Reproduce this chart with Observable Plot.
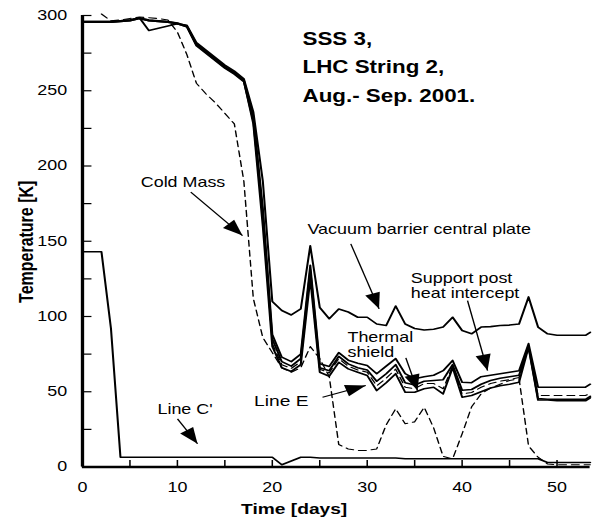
<!DOCTYPE html>
<html>
<head>
<meta charset="utf-8">
<script src="https://cdn.jsdelivr.net/npm/d3@7"></script>
<script src="https://cdn.jsdelivr.net/npm/@observablehq/plot@0.6"></script>
<style>
  body { margin: 0; background: #fff; }
  #chart svg { display: block; }
</style>
</head>
<body>
<div id="chart"></div>
<script>
// ---------- data ----------
const days = [0,1,2,3,4,5,6,7,8,9,10,11,12,13,14,15,16,17,18,19,20,21,22,23,24,25,26,27,28,29,30,31,32,33,34,35,36,37,38,39,40,41,42,43,44,45,46,47,48,49,50,51,52,53,53.5];

const vacuumPlate = [296,296,296,296,296.5,297,298.5,290,291.5,293,294.5,293.5,282,277,272,267,263,258,236,190,110,104,101,105,147,106,98.5,105,103,99.5,99.5,95,94,107,95,92,91,91.5,93,99.5,90.7,88.5,93,93.3,94,94.3,95,113,93,88.5,87.5,87.5,87.5,87.5,89.5];

const supportPost = [296,296,296,296,296.5,297,298.5,297,296.5,296,295,293,281,276,271,266,262,257,233,172,88,73,70,75,134,68.6,66.8,76,71,69,67.4,62,67,72,62,58.6,60,61,64,70.8,56.3,56,60,61,62,63,64,82,53,53,53,53,53,53,55];

const thermalShield = [295.5,295.5,295.5,295.5,296,296.5,298,296.5,296,295.5,294.5,292.5,280,275,270,265,261,256,230,168,85,70,67,72,131,66,64,73.5,68.5,66,64.5,57,62,68,56,54.5,57,57.5,58,68,51,51.5,55,57.5,59,60,61,80,45.5,45,45,45,45,45,47];

const bundleDashed = [296,296,296,296,296.5,297,298.5,297,296.5,296,295,293,281,276,271,266,262,257,231,165,82,68,65.5,70,128,65,62.5,72,67,64.5,63,54,59,65,53,52,55.5,55.5,52,67,48.5,49.5,53,55.5,57,58,59.5,80.5,47.5,47.5,47.5,47.5,47.5,47.5,49];

const lineE = [295.5,295.5,295.5,295.5,296,296.5,298,296.5,296,295.5,294.5,292.5,280.5,275.5,270.5,265.5,261.5,256.5,228,160,80,66,63.5,68,125,63,60.3,69.6,65.2,63,60.8,50.8,56,62,49.7,49.7,52,53,48.6,66,46.4,47.5,50,52.5,54,55,56.3,79.6,44.5,44.5,44,44,44,44,46];

const coldMass = [null,null,301,296.5,297,298,299,298.5,298,297,289,274,255,248,242,235,228,190,112,86,76,66,63,66,80,72,60,15,12,11,11,12,28,38.7,28.7,30,39.7,26,7,5.4,22,40,48.6,52.5,55,57.5,58.6,14,6.5,2,1.5,1.5,1.5,1.5,1.5];

const lineCprime = [143,143,143,92,6.5,6.5,6.5,6.5,6.5,6.5,6.5,6.5,6.5,6.5,6.5,6.5,6.5,6.5,6.5,6.5,6.5,1.5,4,6.5,6.5,6,6,6,6,6,6,6,6,6,5.5,5.5,5.5,5.5,5.5,5.5,5.5,5.5,5.5,5.5,5.5,5.5,5.5,5.5,5.5,3,3,3,3,3,3];

const yTicks = [0,50,100,150,200,250,300];
const yMinorTicks = [0,25,50,75,100,125,150,175,200,225,250,275,300];
const xTicks = [0,10,20,30,40,50];
const xMinorTicks = [0,5,10,15,20,25,30,35,40,45,50];

const titleLines = ["SSS 3,", "LHC String 2,", "Aug.- Sep. 2001."];
const xLabel = "Time [days]";
const yLabel = "Temperature [K]";

// annotation anchors in data units (day, K): baseline of the (last) text line
const notes = [
  {x: 6.14, y: 185.9, text: "Cold Mass", size: 14, lh: 1},
  {x: 23.71, y: 155, text: "Vacuum barrier central plate", size: 14, lh: 1},
  {x: 34.6, y: 112.4, text: "Support post\nheat intercept", size: 14, lh: 1.05},
  {x: 27.92, y: 73.4, text: "Thermal\nshield", size: 14, lh: 1.05},
  {x: 18.08, y: 40.2, text: "Line E", size: 15, lh: 1},
  {x: 7.9, y: 35.3, text: "Line C'", size: 14, lh: 1}
];
const arrows = [
  {x1: 11.41, y1: 182.6, x2: 16.86, y2: 153.8},
  {x1: 28.27, y1: 148.3, x2: 31.25, y2: 105.1},
  {x1: 40.57, y1: 110.6, x2: 42.68, y2: 64.1},
  {x1: 34.07, y1: 72.5, x2: 35.3, y2: 50.8},
  {x1: 25.29, y1: 46.4, x2: 29.85, y2: 54.2},
  {x1: 10.01, y1: 32.0, x2: 12.12, y2: 15.4}
];

// ---------- build ----------
const series = [
  {name: "Vacuum barrier central plate", values: vacuumPlate, dashed: false},
  {name: "Support post heat intercept", values: supportPost, dashed: false},
  {name: "Thermal shield", values: thermalShield, dashed: false},
  {name: "Thermal shield (2)", values: bundleDashed, dashed: true},
  {name: "Line E", values: lineE, dashed: false},
  {name: "Cold Mass", values: coldMass, dashed: true},
  {name: "Line C'", values: lineCprime, dashed: false}
];
const solidRows = [], dashedRows = [];
for (const s of series) {
  days.forEach((d, i) => {
    const v = s.values[i];
    (s.dashed ? dashedRows : solidRows).push({day: d, T: v == null ? NaN : v, series: s.name});
  });
}

const W = 466, H = 519, OUT_W = 596;
const mL = 64, mR = 5, mT = 15, mB = 52.5;
const tickLen = 7;
const xDomain = [0, 53.5], yDomain = [0, 300];
const font = "'Liberation Sans', Arial, Helvetica, sans-serif";

const xs = Plot.scale({x: {domain: xDomain, range: [mL, W - mR]}});
const ys = Plot.scale({y: {domain: yDomain, range: [H - mB, mT]}});
const arrowRows = arrows.map(a => {
  const dx = xs.apply(a.x2) - xs.apply(a.x1);
  const dy = ys.apply(a.y2) - ys.apply(a.y1);
  return {...a, angle: Math.atan2(dx, -dy) * 180 / Math.PI};
});
const headSymbol = {
  draw(ctx) {
    ctx.moveTo(0, 0);
    ctx.lineTo(-6, 16);
    ctx.lineTo(6, 16);
    ctx.closePath();
  }
};

// inward tick segments: tick length converted to data units through the scales
const xTickEnd = xs.invert(mL + tickLen);
const yTickEnd = ys.invert(H - mB - tickLen);
const yTickRows = yMinorTicks.map(v => ({v}));
const xTickRows = xMinorTicks.map(v => ({v}));

const noteMarks = notes.map(n => Plot.text([n], {
  x: "x", y: "y", text: "text",
  textAnchor: "start", lineAnchor: "bottom",
  fontSize: n.size, lineHeight: n.lh, fill: "#000"
}));

const titleRows = titleLines.map((t, i) => ({t, y: 280.4 - i * 18.9}));

const plot = Plot.plot({
  width: W, height: H,
  marginLeft: mL, marginRight: mR, marginTop: mT, marginBottom: mB,
  style: {fontFamily: font, fontSize: "14px", background: "#fff", color: "#000"},
  x: {domain: xDomain},
  y: {domain: yDomain},
  marks: [
    // tick labels
    Plot.axisY({ticks: yTicks, tickSize: 0, tickPadding: 12, fontSize: 14, label: null}),
    Plot.axisX({ticks: xTicks, tickSize: 0, tickPadding: 15, fontSize: 14, label: null}),
    // data
    Plot.line(dashedRows, {x: "day", y: "T", z: "series", stroke: "#000", strokeWidth: 1.1, strokeDasharray: "6,4"}),
    Plot.line(solidRows, {x: "day", y: "T", z: "series", stroke: "#000", strokeWidth: 1.6}),
    // inward ticks
    Plot.link(yTickRows, {x1: () => 0, x2: () => xTickEnd, y1: "v", y2: "v", stroke: "#000", strokeWidth: 1.2}),
    Plot.link(xTickRows, {x1: "v", x2: "v", y1: () => 0, y2: () => yTickEnd, stroke: "#000", strokeWidth: 1.2}),
    // axis lines
    Plot.ruleX([0], {stroke: "#000", strokeWidth: 2.6}),
    Plot.ruleY([0], {stroke: "#000", strokeWidth: 2.4}),
    // annotations
    ...noteMarks,
    Plot.link(arrowRows, {x1: "x1", y1: "y1", x2: "x2", y2: "y2", stroke: "#000", strokeWidth: 1.1}),
    Plot.dot(arrowRows, {x: "x2", y: "y2", symbol: headSymbol, rotate: "angle", fill: "#000", stroke: "none", r: 1}),
    Plot.text(titleRows, {x: () => 23.18, y: "y", text: "t", textAnchor: "start", lineAnchor: "bottom", fontSize: 17.5, fontWeight: "bold"}),
    // axis titles
    Plot.text([xLabel], {frameAnchor: "bottom", text: d => d, dx: -33, dy: 46.8, lineAnchor: "bottom", fontSize: 15, fontWeight: "bold"}),
    Plot.text([yLabel], {x: () => -5.9, y: () => 109, text: d => d, textAnchor: "start", lineAnchor: "middle", rotate: -90, fontSize: 16, fontWeight: "bold"})
  ]
});

plot.setAttribute("viewBox", `0 0 ${W} ${H}`);
plot.setAttribute("width", OUT_W);
plot.setAttribute("height", H);
plot.setAttribute("preserveAspectRatio", "none");
plot.style.maxWidth = "none";
plot.style.width = OUT_W + "px";
plot.style.height = H + "px";
document.getElementById("chart").appendChild(plot);
</script>
</body>
</html>
